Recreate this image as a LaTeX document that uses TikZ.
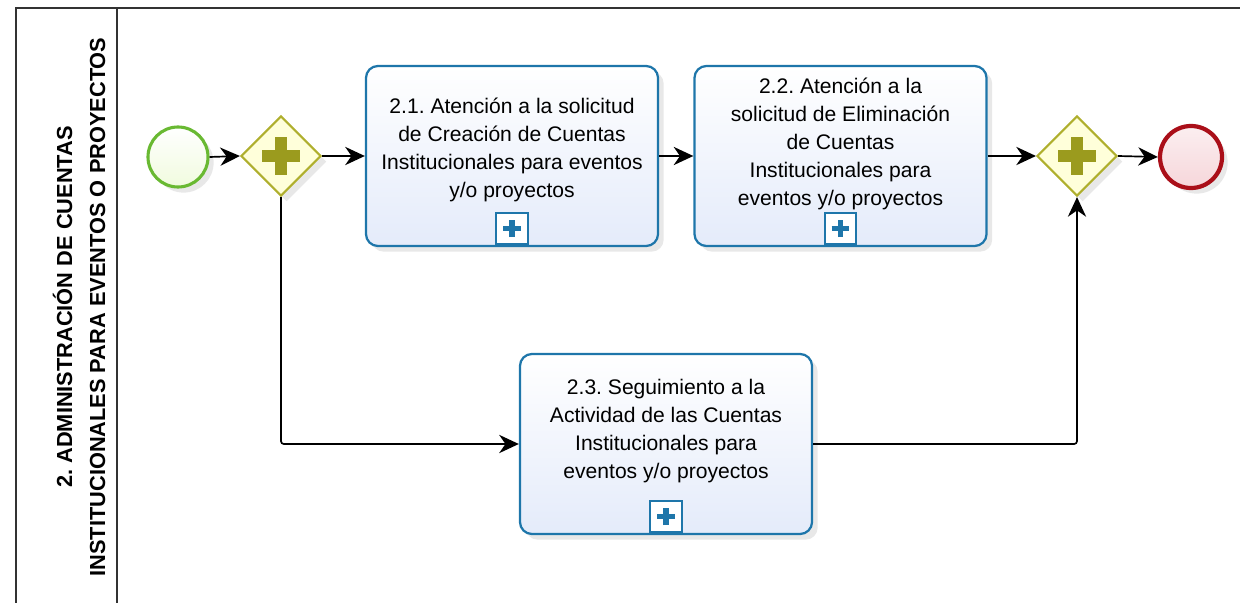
\documentclass[tikz,border=0pt]{standalone}
\usepackage{fontspec}
\setmainfont{Liberation Sans}
\usetikzlibrary{arrows.meta}
\usetikzlibrary{shapes.geometric}
\usetikzlibrary{shadows}
\usetikzlibrary{positioning}
\definecolor{taskblue}{RGB}{30, 118, 170}
\definecolor{taskfill}{RGB}{228, 235, 250}
\definecolor{gwolive}{RGB}{175, 175, 45}
\definecolor{gwfill}{RGB}{255, 255, 218}
\definecolor{gwplus}{RGB}{155, 155, 30}
\definecolor{startgreen}{RGB}{105, 185, 50}
\definecolor{startfill}{RGB}{240, 251, 222}
\definecolor{endred}{RGB}{170, 15, 25}
\definecolor{endfill}{RGB}{246, 214, 218}
\definecolor{lanegray}{RGB}{50, 50, 50}
\tikzset{softshadow/.style = {drop shadow = {shadow xshift = 4pt, shadow yshift = -4pt, opacity = 0.15, fill = black!60}}}
\tikzset{task/.style = {draw = taskblue, line width = 1.6pt, rounded corners = 0.3cm, top color = white, bottom color = taskfill, minimum width = 7.3cm, minimum height = 4.5cm, softshadow}}
\tikzset{tasktext/.style = {align = center, font = \fontsize{15pt}{20pt}\selectfont, inner sep = 0}}
\tikzset{marker/.style = {draw = taskblue, fill = white, line width = 1.5pt, minimum size = 0.78cm, inner sep = 0, anchor = south, yshift = 1.5pt,
    path picture = {\draw [taskblue, line width = 3.6pt] (path picture bounding box.center) +(-0.22cm, 0cm) -- +(0.22cm, 0cm)
      (path picture bounding box.center) +(0cm, -0.22cm) -- +(0cm, 0.22cm);}}}
\tikzset{gate/.style = {diamond, draw = gwolive, fill = gwfill, line width = 1.5pt, minimum width = 2cm, minimum height = 2cm, inner sep = 0, softshadow,
    path picture = {\draw [gwplus, line width = 9pt] (path picture bounding box.center) +(-0.47cm, 0cm) -- +(0.47cm, 0cm)
      (path picture bounding box.center) +(0cm, -0.47cm) -- +(0cm, 0.47cm);}}}
\tikzset{start/.style = {circle, draw = startgreen, line width = 2.2pt, top color = white, bottom color = startfill, minimum size = 1.5cm, inner sep = 0, softshadow}}
\tikzset{stop/.style = {circle, draw = endred, line width = 3pt, top color = white!60!endfill, bottom color = endfill, minimum size = 1.55cm, inner sep = 0, softshadow}}
\tikzset{flow/.style = {line width = 1.2pt, -{Stealth[length = 14pt, width = 13pt, inset = 4.5pt]}}}
\tikzset{lane/.style = {draw = lanegray, line width = 1.3pt}}
\tikzset{lanetitle/.style = {align = center, font = \fontsize{15.5pt}{23.5pt}\selectfont\bfseries, inner sep = 0}}

\begin{document}
\frenchspacing
\begin{tikzpicture}[x = 0.025cm, y = -0.025cm]
    \useasboundingbox (0, 0) rectangle (1240, 603);

    % pool and lane header
    \draw [lane] (1240, 8) -- (16, 8) -- (16, 603);
    \draw [lane] (117, 8) -- (117, 603);
    \node [lanetitle, rotate = 90] (lanename) at (79, 307)
        {2. ADMINISTRACIÓN DE CUENTAS\\INSTITUCIONALES PARA EVENTOS O PROYECTOS};

    \node [start] (start) at (178, 157) {};
    \node [gate] (gw1) at (281, 156) {};
    \node [gate] (gw2) at (1077, 156) {};
    \node [stop] (end) at (1191, 157) {};

    \node [task] (t1) at (512, 156) {};
    \node [tasktext] (t1text) at (512, 150)
        {2.1. Atención a la solicitud\\de Creación de Cuentas\\Institucionales para eventos\\y/o proyectos};
    \node [marker] (t1plus) at (t1.south) {};

    \node [task] (t2) at (840.5, 156) {};
    \node [tasktext] (t2text) at (840.5, 144)
        {2.2. Atención a la\\solicitud de Eliminación\\de Cuentas\\Institucionales para\\eventos y/o proyectos};
    \node [marker] (t2plus) at (t2.south) {};

    \node [task] (t3) at (666, 444) {};
    \node [tasktext] (t3text) at (666, 431)
        {2.3. Seguimiento a la\\Actividad de las Cuentas\\Institucionales para\\eventos y/o proyectos};
    \node [marker] (t3plus) at (t3.south) {};

    \draw [flow] (start.east) -- (gw1.west);
    \draw [flow] (gw1.east) -- (t1.west);
    \draw [flow] (t1.east) -- (t2.west);
    \draw [flow] (t2.east) -- (gw2.west);
    \draw [flow] (gw2.east) -- (end.west);
    \draw [flow, rounded corners = 2pt] (gw1.south) |- (t3.west);
    \draw [flow, rounded corners = 2pt] (t3.east) -| (gw2.south);
\end{tikzpicture}
\end{document}
